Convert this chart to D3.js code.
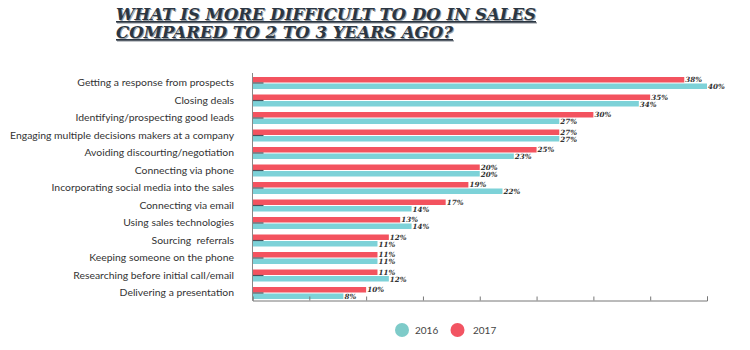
<!DOCTYPE html>
<html lang="en">
<head>
    <meta charset="UTF-8">
    <title>What is more difficult to do in sales</title>
    <script src="https://d3js.org/d3.v7.min.js"></script>
    <style>
        body {
            margin: 0;
            background: #fff;
        }

        .cat-label {
            font-family: Lato, "Noto Sans", sans-serif;
            font-size: 10.4px;
            fill: #333;
            white-space: pre;
        }

        .val-label {
            font-family: "DejaVu Serif", serif;
            font-weight: bold;
            font-style: italic;
            font-size: 7.2px;
            fill: #333;
        }

        .title {
            font-family: "DejaVu Serif", serif;
            font-weight: bold;
            font-style: italic;
            font-size: 16px;
            fill: #2b3642;
            text-decoration: underline;
        }

        .title-shadow {
            fill: #9aa0a6;
        }

        .legend-text {
            font-family: Lato, "Noto Sans", sans-serif;
            font-size: 10px;
            fill: #444;
        }
    </style>
</head>
<body>
    <svg width="750" height="350"></svg>

    <script>
        var categories = [
            "Getting a response from prospects",
            "Closing deals",
            "Identifying/prospecting good leads",
            "Engaging multiple decisions makers at a company",
            "Avoiding discourting/negotiation",
            "Connecting via phone",
            "Incorporating social media into the sales",
            "Connecting via email",
            "Using sales technologies",
            "Sourcing  referrals",
            "Keeping someone on the phone",
            "Researching before initial call/email",
            "Delivering a presentation"
        ];
        var values2017 = [38, 35, 30, 27, 25, 20, 19, 17, 13, 12, 11, 11, 10];
        var values2016 = [40, 34, 27, 27, 23, 20, 22, 14, 14, 11, 11, 12, 8];
        var xTicks = [0, 5, 10, 15, 20, 25, 30, 35, 40];
        var seriesNames = ["2016", "2017"];
        var titleLines = ["WHAT IS MORE DIFFICULT TO DO IN SALES", "COMPARED TO 2 TO 3 YEARS AGO?"];

        var red = "#f3535f", teal = "#7dd2d8";

        var svg = d3.select("svg");

        var x = d3.scaleLinear().domain([0, 40]).range([252.5, 707]);
        var y = d3.scaleBand().domain(categories).range([75, 302.5]);
        var axisY = 300.5;

        // title (with a soft grey shadow behind)
        var titleSpec = [
            { text: titleLines[0], y: 20, len: 420 },
            { text: titleLines[1], y: 38, len: 337 }
        ];
        titleSpec.forEach(function(t) {
            svg.append("text").attr("class", "title title-shadow")
                .attr("x", 117).attr("y", t.y + 1)
                .attr("textLength", t.len).attr("lengthAdjust", "spacingAndGlyphs")
                .text(t.text);
            svg.append("text").attr("class", "title")
                .attr("x", 116).attr("y", t.y)
                .attr("textLength", t.len).attr("lengthAdjust", "spacingAndGlyphs")
                .text(t.text);
        });

        var rows = categories.map(function(c, i) {
            return { cat: c, v17: values2017[i], v16: values2016[i] };
        });

        // bars
        var g = svg.append("g");
        var row = g.selectAll(".row").data(rows).enter().append("g")
            .attr("transform", function(d) { return "translate(0," + y(d.cat) + ")"; });

        row.append("rect")
            .attr("x", x(0)).attr("y", 2)
            .attr("width", function(d) { return x(d.v17) - x(0); })
            .attr("height", 5.5)
            .attr("fill", red);

        row.append("rect")
            .attr("x", x(0)).attr("y", 8.5)
            .attr("width", function(d) { return x(d.v16) - x(0); })
            .attr("height", 5.5)
            .attr("fill", teal);

        // small dark marks on the left
        row.append("line")
            .attr("x1", x(0)).attr("x2", x(0) + 11)
            .attr("y1", 8).attr("y2", 8)
            .attr("stroke", "#46525c").attr("stroke-width", 1.2);

        row.append("text").attr("class", "val-label")
            .attr("x", function(d) { return x(d.v17) + 1; })
            .attr("y", 7.3)
            .text(function(d) { return d.v17 + "%"; });

        row.append("text").attr("class", "val-label")
            .attr("x", function(d) { return x(d.v16) + 1; })
            .attr("y", 14.3)
            .text(function(d) { return d.v16 + "%"; });

        row.append("text").attr("class", "cat-label")
            .attr("x", 234).attr("y", 7.5)
            .attr("dy", "0.35em")
            .attr("text-anchor", "end")
            .attr("xml:space", "preserve")
            .text(function(d) { return d.cat; });

        // axes
        var xAxis = d3.axisBottom(x).tickValues(xTicks).tickSize(-4).tickFormat("");
        var xg = svg.append("g").attr("transform", "translate(0," + axisY + ")").call(xAxis);
        xg.selectAll("path, line").attr("stroke", "#777");

        svg.append("line")
            .attr("x1", x(0)).attr("x2", x(0))
            .attr("y1", 73).attr("y2", axisY)
            .attr("stroke", "#888").attr("stroke-width", 1);

        // legend
        var legend = svg.append("g");
        var legendItems = [
            { name: seriesNames[0], color: "#7ecbc9", cx: 402, tx: 415 },
            { name: seriesNames[1], color: "#f25462", cx: 457.5, tx: 473 }
        ];
        legend.selectAll("circle").data(legendItems).enter().append("circle")
            .attr("cx", function(d) { return d.cx; })
            .attr("cy", 330)
            .attr("r", 7)
            .attr("fill", function(d) { return d.color; });
        legend.selectAll("text").data(legendItems).enter().append("text")
            .attr("class", "legend-text")
            .attr("x", function(d) { return d.tx; })
            .attr("y", 330).attr("dy", "0.35em")
            .text(function(d) { return d.name; });
    </script>
</body>
</html>
